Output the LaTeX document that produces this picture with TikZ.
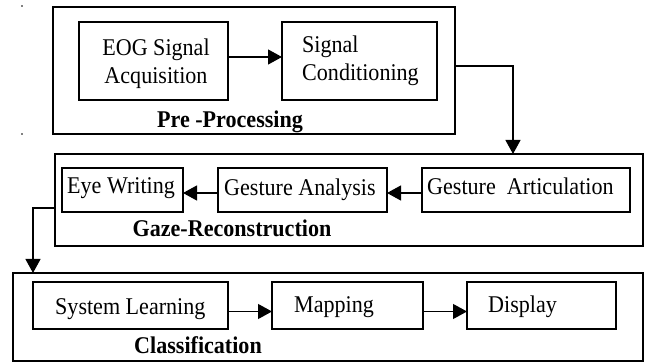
\documentclass[tikz,border=0pt]{standalone}
\usepackage{fontspec}
\setmainfont[FakeStretch=0.92]{Liberation Serif}
\usetikzlibrary{arrows.meta}

\begin{document}
\begin{tikzpicture}[x=1pt,y=-1pt,
  box/.style={draw, line width=1.2pt, inner sep=0pt, outer sep=0pt, anchor=north west},
  txt/.style={inner sep=0pt, font=\fontsize{24}{28}\selectfont},
  title/.style={inner sep=0pt, anchor=base, font=\fontsize{24}{28}\selectfont\bfseries},
  flow/.style={line width=1.2pt, -{Triangle[length=14pt,width=15pt]}}]
\useasboundingbox (0,0) rectangle (649,363);

% small marks in the left margin
\fill (22,6) circle (0.9pt);
\fill (22,134) circle (0.9pt);

% stage 1: pre-processing
\node[box, minimum width=402pt, minimum height=127pt] (pre) at (53,7) {};
\node[box, minimum width=149pt, minimum height=78pt] (eog) at (79,22) {};
\node[box, minimum width=155pt, minimum height=78pt] (cond) at (282,22) {};
\node[txt, anchor=north, align=center] (eogt) at (156,38.5) {EOG Signal\\Acquisition};
\node[txt, anchor=north west, align=left] (condt) at (302,35.5) {Signal\\Conditioning};
\node[title] (pret) at (230,128) {Pre -Processing};

% stage 2: gaze reconstruction
\node[box, minimum width=588pt, minimum height=92pt] (gaze) at (55,154) {};
\node[box, minimum width=121pt, minimum height=44pt] (eye) at (62,168) {};
\node[box, minimum width=169pt, minimum height=44pt] (ana) at (218,168) {};
\node[box, minimum width=208pt, minimum height=44pt] (art) at (422,168) {};
\node[txt, anchor=base west] (eyet) at (67,194) {Eye Writing};
\node[txt, anchor=base west] (anat) at (224,196) {Gesture Analysis};
\node[txt, anchor=base west] (artt) at (427,195) {Gesture\ \ Articulation};
\node[title] (gazet) at (232,237) {Gaze-Reconstruction};

% stage 3: classification
\node[box, minimum width=630pt, minimum height=88pt] (cls) at (13,273) {};
\node[box, minimum width=195pt, minimum height=47pt] (learn) at (33,282) {};
\node[box, minimum width=151pt, minimum height=47pt] (map) at (272,282) {};
\node[box, minimum width=149pt, minimum height=47pt] (disp) at (467,282) {};
\node[txt, anchor=base west] (learnt) at (55,315) {System Learning};
\node[txt, anchor=base west] (mapt) at (294,313) {Mapping};
\node[txt, anchor=base west] (dispt) at (488,313) {Display};
\node[title] (clst) at (198,354) {Classification};

% arrows inside the stages
\draw[flow] ([yshift=4pt]eog.east) -- ([yshift=4pt]cond.west);
\draw[flow] ([yshift=-3pt]art.west) -- ([yshift=-3pt]ana.east);
\draw[flow] ([yshift=-3pt]ana.west) -- ([yshift=-3pt]eye.east);
\draw[flow] ([yshift=-6pt]learn.east) -- ([yshift=-6pt]map.west);
\draw[flow] ([yshift=-6pt]map.east) -- ([yshift=-6pt]disp.west);

% links between the stages
\coordinate (k1) at (513,66);
\coordinate (k2) at (33,208);
\draw[flow] (pre.east |- k1) -- (k1) -- (gaze.north -| k1);
\draw[flow] (gaze.west |- k2) -- (k2) -- (cls.north -| k2);
\end{tikzpicture}
\end{document}
